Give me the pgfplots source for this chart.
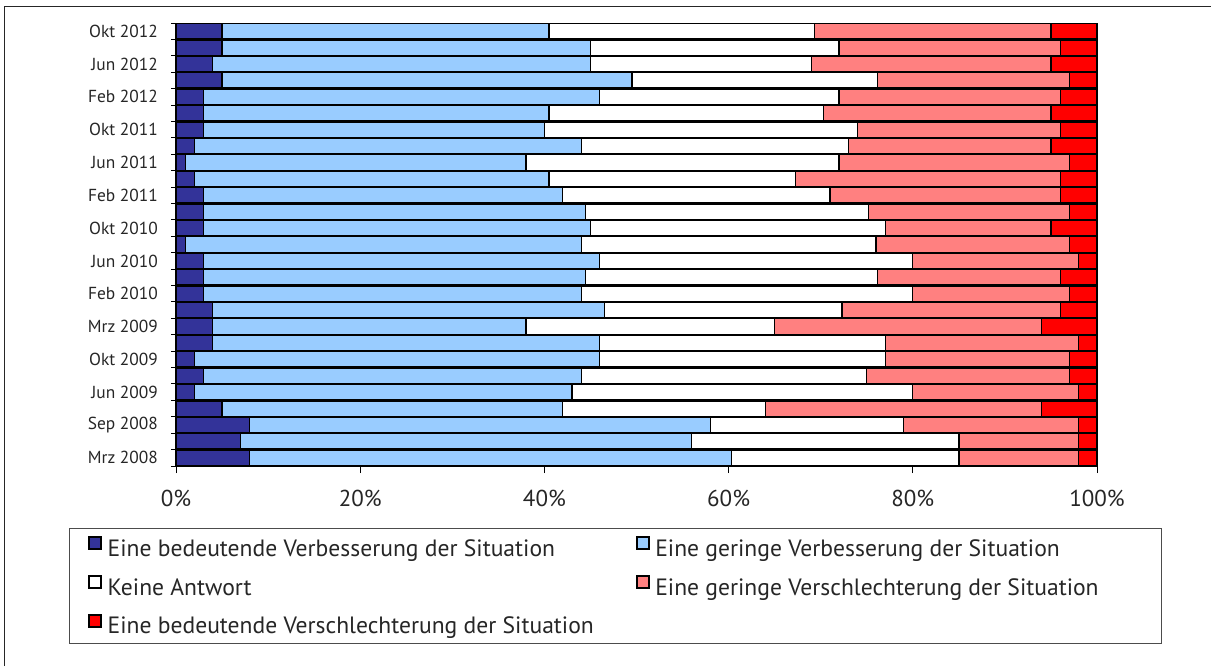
\documentclass[border=0pt]{standalone}
\usepackage{pgfplots}
\pgfplotsset{compat=1.18}
\usepackage{pgfplotstable}
\usepackage{fontspec}
\setmainfont{PT Sans}
\definecolor{dblue}{HTML}{333399}
\definecolor{lblue}{HTML}{99CCFF}
\definecolor{lred}{HTML}{FF8080}
\definecolor{dred}{HTML}{FF0000}

\pgfplotstableread{
pos a b c d e
27 5 35.5 28.8 25.7 5
26 5 40 27 24 4
25 4 41 24 26 5
24 5 44.5 26.7 20.8 3
23 3 43 26 24 4
22 3 37.5 29.8 24.7 5
21 3 37 34 22 4
20 2 42 29 22 5
19 1 37 34 25 3
18 2 38.5 26.8 28.7 4
17 3 39 29 25 4
16 3 41.5 30.7 21.8 3
15 3 42 32 18 5
14 1 43 32 21 3
13 3 43 34 18 2
12 3 41.5 31.7 19.8 4
11 3 41 36 17 3
10 4 42.5 25.8 23.7 4
9 4 34 27 29 6
8 4 42 31 21 2
7 2 44 31 20 3
6 3 41 31 22 3
5 2 41 37 18 2
4 5 37 22 30 6
3 8 50 21 19 2
2 7 49 29 13 2
1 8 52.3 24.7 13 2
}\data

\pgfplotsset{sq/.style={legend image code/.code={\draw[##1,line width=1pt] (0.5pt,0.6pt) rectangle (6.5pt,6.6pt); \path (9.5pt,0pt);}}}

\begin{document}
\begin{tikzpicture}
\useasboundingbox (0,0) rectangle (605.5pt,333pt);
\begin{axis}[
  at={(88pt,100pt)}, anchor=south west,
  scale only axis, width=460.5pt, height=221.5pt,
  xbar stacked, bar width=0.94,
  xmin=0, xmax=100, ymin=0.5, ymax=27.5,
  enlargelimits=false, clip=false,
  axis x line=bottom, axis y line=left,
  axis line style={-, line width=0.7pt, black},
  xtick={0,20,...,100}, xticklabels={0\%,20\%,40\%,60\%,80\%,100\%},
  ytick={1,3,...,27},
  yticklabels={Mrz 2008,Sep 2008,Jun 2009,Okt 2009,Mrz 2009,Feb 2010,Jun 2010,Okt 2010,Feb 2011,Jun 2011,Okt 2011,Feb 2012,Jun 2012,Okt 2012},
  minor ytick={0.5,1.5,...,27.5},
  tick align=outside, major tick length=3.5pt, minor tick length=2.5pt,
  xtick style={black, line width=0.5pt},
  major y tick style={draw=none},
  minor y tick style={black, line width=0.5pt},
  xticklabel style={font=\fontsize{11.5}{13}\selectfont, yshift=-5pt, text=black!85},
  yticklabel style={font=\fontsize{8.7}{10}\selectfont, xshift=-2pt, text=black!85},
  legend columns=2,
  legend cell align=left,
  legend style={at={(axis description cs:-0.0955,-0.1590)}, anchor=north west,
    draw=none, fill=none, inner sep=0pt, outer sep=0pt,
    font=\fontsize{11.8}{13}\selectfont, text=black!85,
    row sep=6.2pt, column sep=0pt,
    nodes={inner sep=0pt, text height=9pt, text depth=3pt}},
  every axis plot/.append style={draw=black, line width=0.65pt},
]
\addplot[fill=dblue, sq] table[x=a, y=pos] {\data};
\addlegendentry{\makebox[264pt][l]{Eine bedeutende Verbesserung der Situation}}
\addplot[fill=lblue, sq] table[x=b, y=pos] {\data};
\addlegendentry{Eine geringe Verbesserung der Situation}
\addplot[fill=white, sq] table[x=c, y=pos] {\data};
\addlegendentry{\makebox[264pt][l]{Keine Antwort}}
\addplot[fill=lred, sq] table[x=d, y=pos] {\data};
\addlegendentry{Eine geringe Verschlechterung der Situation}
\addplot[fill=dred, sq] table[x=e, y=pos] {\data};
\addlegendentry{\makebox[264pt][l]{Eine bedeutende Verschlechterung der Situation}}
\end{axis}
\draw[line width=0.6pt, black!85] (2.35pt,0) -- (2.35pt,329.65pt) -- (605.5pt,329.65pt);
\draw[line width=0.5pt, black!70] (34.5pt,11.5pt) rectangle (580.5pt,69pt);
\end{tikzpicture}
\end{document}
